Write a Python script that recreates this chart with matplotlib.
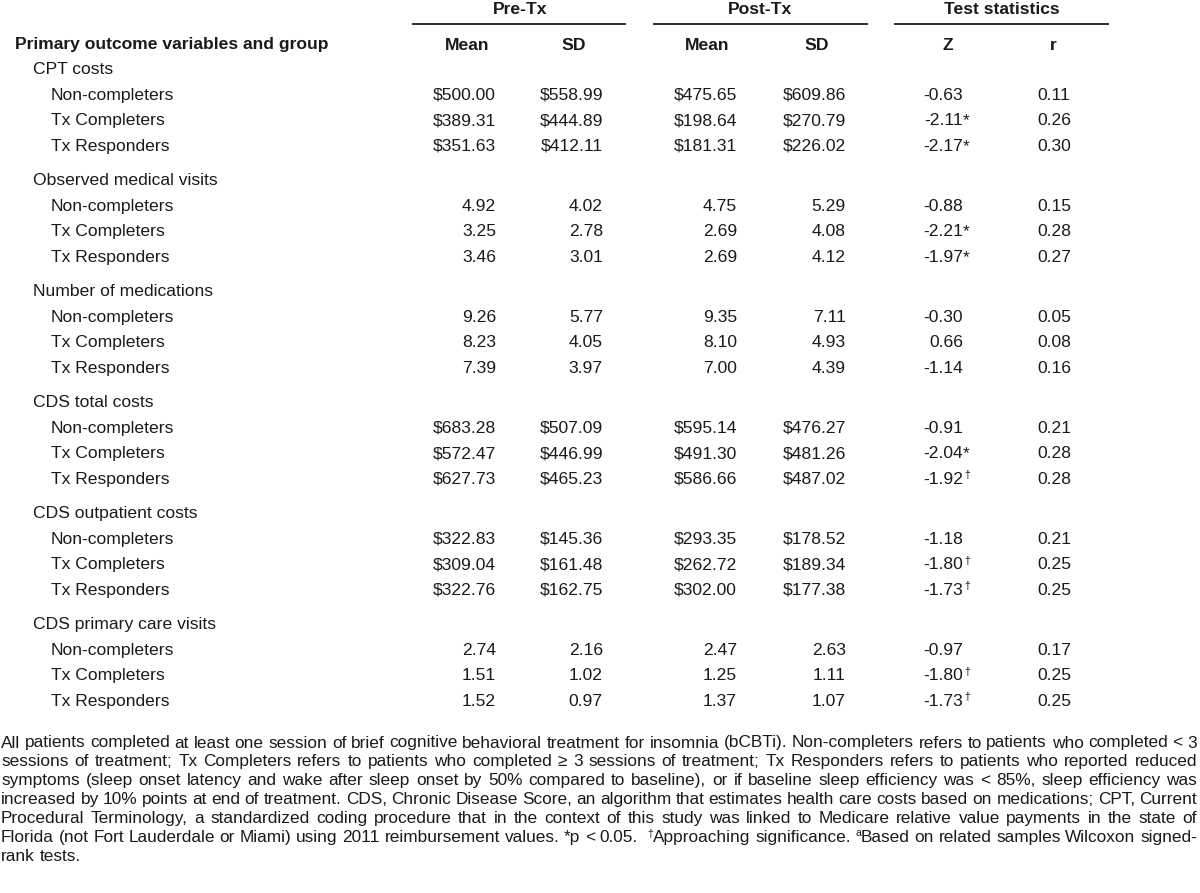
import matplotlib
matplotlib.use("Agg")
import matplotlib.pyplot as plt
from matplotlib.lines import Line2D

# table values
groups = ["CPT costs", "Observed medical visits", "Number of medications",
          "CDS total costs", "CDS outpatient costs", "CDS primary care visits"]
subgroups = ["Non-completers", "Tx Completers", "Tx Responders"]
is_money = [True, False, False, True, True, False]

pre_mean = [[500.00, 389.31, 351.63], [4.92, 3.25, 3.46], [9.26, 8.23, 7.39],
            [683.28, 572.47, 627.73], [322.83, 309.04, 322.76], [2.74, 1.51, 1.52]]
pre_sd = [[558.99, 444.89, 412.11], [4.02, 2.78, 3.01], [5.77, 4.05, 3.97],
          [507.09, 446.99, 465.23], [145.36, 161.48, 162.75], [2.16, 1.02, 0.97]]
post_mean = [[475.65, 198.64, 181.31], [4.75, 2.69, 2.69], [9.35, 8.10, 7.00],
             [595.14, 491.30, 586.66], [293.35, 262.72, 302.00], [2.47, 1.25, 1.37]]
post_sd = [[609.86, 270.79, 226.02], [5.29, 4.08, 4.12], [7.11, 4.93, 4.39],
           [476.27, 481.26, 487.02], [178.52, 189.34, 177.38], [2.63, 1.11, 1.07]]
z_vals = [[-0.63, -2.11, -2.17], [-0.88, -2.21, -1.97], [-0.30, 0.66, -1.14],
          [-0.91, -2.04, -1.92], [-1.18, -1.80, -1.73], [-0.97, -1.80, -1.73]]
z_marks = [["", "*", "*"], ["", "*", "*"], ["", "", ""],
           ["", "*", "†"], ["", "†", "†"], ["", "†", "†"]]
r_vals = [[0.11, 0.26, 0.30], [0.15, 0.28, 0.27], [0.05, 0.08, 0.16],
          [0.21, 0.28, 0.28], [0.21, 0.25, 0.25], [0.17, 0.25, 0.25]]

# footnote lines; "^" marks a superscript prefix
foot_lines = [
    "All patients completed at least one session of brief cognitive behavioral treatment for insomnia (bCBTi). Non-completers refers to patients who completed < 3",
    "sessions of treatment; Tx Completers refers to patients who completed ≥ 3 sessions of treatment; Tx Responders refers to patients who reported reduced",
    "symptoms (sleep onset latency and wake after sleep onset by 50% compared to baseline), or if baseline sleep efficiency was < 85%, sleep efficiency was",
    "increased by 10% points at end of treatment. CDS, Chronic Disease Score, an algorithm that estimates health care costs based on medications; CPT, Current",
    "Procedural Terminology, a standardized coding procedure that in the context of this study was linked to Medicare relative value payments in the state of",
    "Florida (not Fort Lauderdale or Miami) using 2011 reimbursement values. *p < 0.05.  ^†Approaching significance. ^aBased on related samples Wilcoxon signed-",
    "rank tests.",
]

FONT = ["Liberation Sans", "DejaVu Sans"]
FS = 12.6
SUP = 7.5
INK = "#1a1a1a"
W, H = 1200, 893

fig = plt.figure(figsize=(12, 8.93), dpi=100)
fig.patch.set_facecolor("white")


def fx(x):
    return x / W


def fy(y):
    return 1 - y / H


def txt(x, y, s, ha="left", bold=False, size=FS):
    return fig.text(fx(x), fy(y), s, ha=ha, va="center", fontsize=size,
                    family=FONT, fontweight="bold" if bold else "normal", color=INK)


# header
for label, cx, x0, x1 in [("Pre-Tx", 520, 413, 625), ("Post-Tx", 760, 654, 867),
                          ("Test statistics", 1002, 895, 1108)]:
    txt(cx, 10, label, ha="center", bold=True)
    fig.add_artist(Line2D([fx(x0), fx(x1)], [fy(23.5), fy(23.5)], color=INK, lw=1.3))

txt(15, 45, "Primary outcome variables and group", bold=True)
for label, cx in [("Mean", 467), ("SD", 574), ("Mean", 707), ("SD", 817), ("Z", 948), ("r", 1053)]:
    txt(cx, 45, label, ha="center", bold=True)

# body
x_pre_m, x_pre_s, x_post_m, x_post_s, x_z, x_r = 496, 603, 737, 846, 963, 1037
for g, name in enumerate(groups):
    y0 = 69.5 + g * 111
    txt(33, y0, name)
    fmt = "${:,.2f}" if is_money[g] else "{:.2f}"
    for k, sub in enumerate(subgroups):
        y = y0 + 25.6 * (k + 1)
        txt(51, y, sub)
        txt(x_pre_m, y, fmt.format(pre_mean[g][k]), ha="right")
        txt(x_pre_s, y, fmt.format(pre_sd[g][k]), ha="right")
        txt(x_post_m, y, fmt.format(post_mean[g][k]), ha="right")
        txt(x_post_s, y, fmt.format(post_sd[g][k]), ha="right")
        txt(x_z, y, "{:.2f}".format(z_vals[g][k]), ha="right")
        mark = z_marks[g][k]
        if mark == "*":
            txt(x_z, y, "*")
        elif mark == "†":
            txt(x_z + 1, y - 4, "†", size=SUP)
        txt(x_r, y, "{:.2f}".format(r_vals[g][k]))

# footnote, justified across the full width
fig.canvas.draw()
renderer = fig.canvas.get_renderer()


def width_of(s, size):
    t = fig.text(0, 0, s, fontsize=size, family=FONT)
    w = t.get_window_extent(renderer).width
    t.remove()
    return w


left, right = 1, 1197
# pick a footnote size so the first line fits with ordinary spacing
fs_foot = FS * (right - left - 4) / width_of(foot_lines[0], FS)
fs_foot = min(fs_foot, FS)
space_w = width_of("a b", fs_foot) - width_of("ab", fs_foot)

for i, line in enumerate(foot_lines):
    y = 743 + 18.9 * i
    pieces = []
    for w in line.split(" "):
        if w.startswith("^"):
            pieces.append([(w[1], True), (w[2:], False)])
        else:
            pieces.append([(w, False)])
    widths = [sum(width_of(s, SUP if sup else fs_foot) for s, sup in p if s) for p in pieces]
    if i < len(foot_lines) - 1:
        gap = (right - left - sum(widths)) / (len(pieces) - 1)
    else:
        gap = space_w
    x = left
    for p, w in zip(pieces, widths):
        xx = x
        for s, sup in p:
            if not s:
                continue
            if sup:
                txt(xx, y - 4, s, size=SUP)
                xx += width_of(s, SUP)
            else:
                txt(xx, y, s, size=fs_foot)
                xx += width_of(s, fs_foot)
        x += w + gap

fig.savefig("out.png", dpi=100, facecolor="white")
